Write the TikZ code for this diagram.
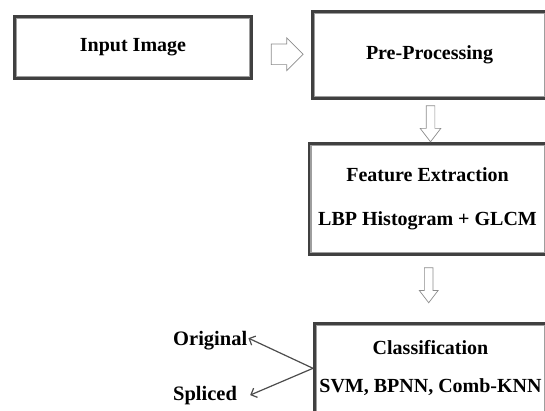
\documentclass[tikz,border=0pt]{standalone}
\usepackage{fontspec}
\setmainfont{Liberation Serif}
\usepackage{tikz}
\usetikzlibrary{shapes,arrows.meta,calc}
\tikzstyle{block} = [rectangle, draw=black!75, line width=2.6pt, inner sep=0pt, align=center, font=\fontsize{20}{24}\selectfont\bfseries]
\tikzstyle{innerline} = [draw=black!38, line width=1.4pt]
\tikzstyle{hollow} = [single arrow, draw=black!45, fill=white, line width=0.7pt, inner sep=0pt, single arrow head indent=0pt]
\tikzstyle{outtext} = [inner sep=0pt, font=\fontsize{20.5}{24}\selectfont\bfseries]
\tikzstyle{arrow} = [draw=black!70, line width=1.2pt, -{Straight Barb[length=5pt, width=10pt]}]

\begin{document}
\begin{tikzpicture}[x=1pt, y=-1pt]
      \useasboundingbox (0, 0) rectangle (545, 410);
      \pgfmathsetmacro{\gap}{14}
      \pgfmathsetmacro{\inset}{3.3}
      % boxes
      \node [block, minimum width=237.4pt, minimum height=62.4pt] at (133, 47.5) (inp) {Input Image};
      \node [block, minimum width=234.4pt, minimum height=87.4pt] at (429.5, 55) (pre) {Pre-Processing};
      \node [block, minimum width=237.4pt, minimum height=111.4pt] at (427.5, 199) (feat) {Feature Extraction\\[20pt]LBP Histogram + GLCM};
      \node [block, minimum width=232.4pt, minimum height=90pt] at (430.5, 368.3) (cls) {Classification\\[\gap pt]SVM, BPNN, Comb-KNN};
      \foreach \n in {inp, pre, feat, cls}
        \path [innerline] ($(\n.north west) + (\inset, \inset)$) rectangle ($(\n.south east) + (-\inset, -\inset)$);
      % outputs
      \node [outtext, anchor=base west] at (173, 345) (orig) {Original};
      \node [outtext, anchor=base west] at (173, 400) (spl) {Spliced};
      % hollow arrows between the boxes
      \node [hollow, minimum height=32pt, minimum width=32pt, inner ysep=10pt, single arrow head extend=6pt] at ($(inp.east)!0.5!(pre.west) + (0, 3)$) (a1) {};
      \node [hollow, shape border rotate=270, minimum height=36pt, minimum width=20pt, inner xsep=4pt, single arrow head extend=6pt, single arrow tip angle=75] at ($(pre.south)!0.5!(feat.north) + (2, 0)$) (a2) {};
      \node [hollow, shape border rotate=270, minimum height=35pt, minimum width=18pt, inner xsep=4pt, single arrow head extend=5pt, single arrow tip angle=75] at ($(feat.south)!0.4!(cls.north)$) (a3) {};
      \path [arrow] (cls.west) -- ([xshift=1pt, yshift=2pt]orig.east);
      \path [arrow] (cls.west) -- ([xshift=13pt]spl.east);
    \end{tikzpicture}
\end{document}
